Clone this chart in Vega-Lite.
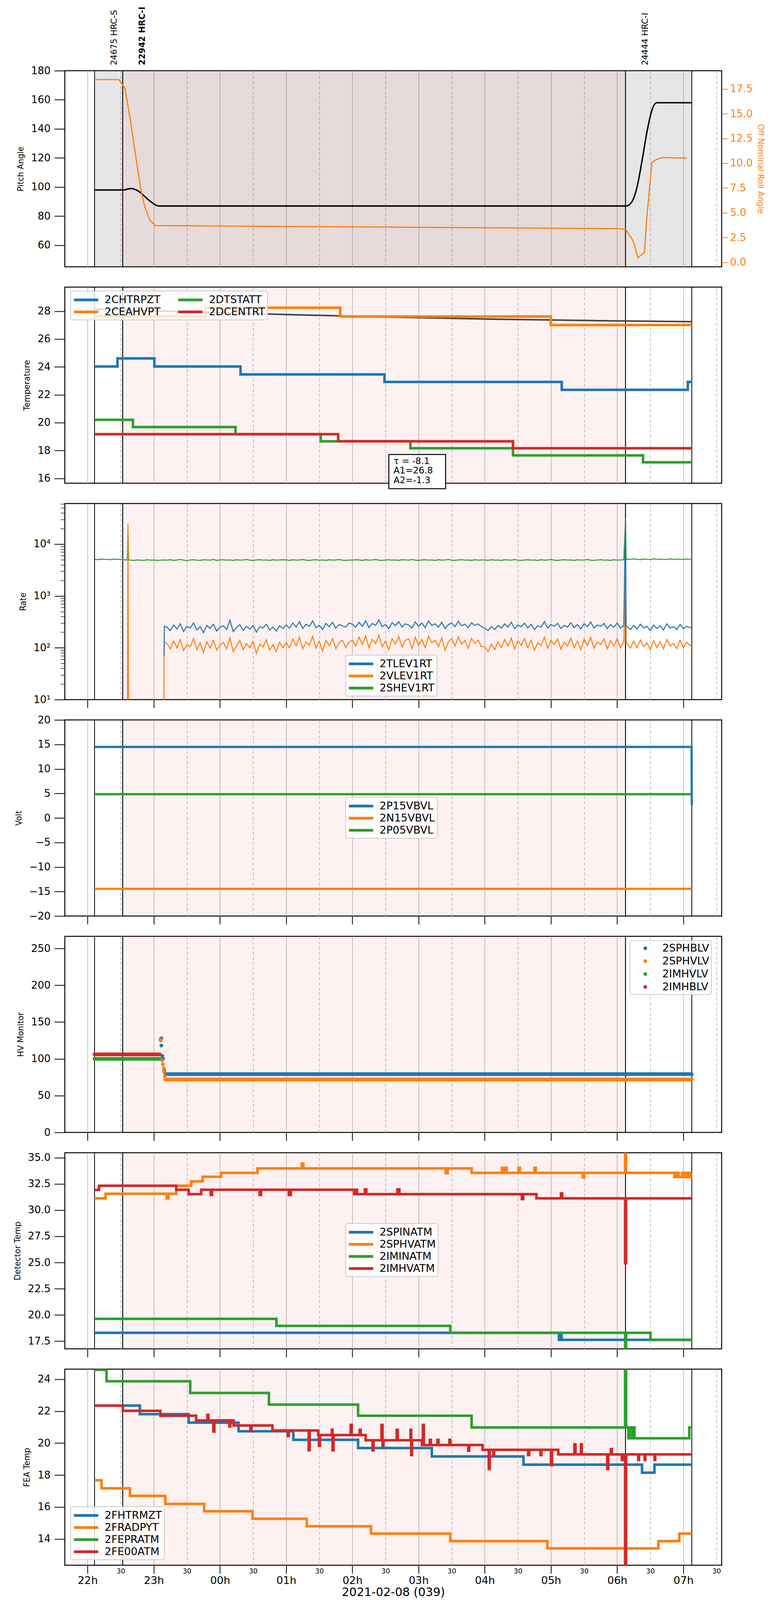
{
  "$schema": "https://vega.github.io/schema/vega-lite/v6.json",
  "background": "white",
  "padding": {"left": 33, "top": 15, "right": 10, "bottom": 5},
  "bounds": "flush",
  "spacing": 52,
  "config": {
    "font": "DejaVu Sans",
    "view": {"stroke": "black", "strokeWidth": 2.5},
    "axis": {
      "labelFont": "DejaVu Sans", "labelFontSize": 26, "labelColor": "black",
      "titleFont": "DejaVu Sans", "titleFontSize": 20.5, "titleFontWeight": "normal", "titleColor": "black",
      "tickColor": "black", "tickWidth": 2, "tickSize": 27, "labelPadding": 10, "titlePadding": 16,
      "domain": false, "grid": false
    },
    "legend": {
      "orient": "none", "fillColor": "rgba(255,255,255,0.8)", "strokeColor": "#cccccc", "strokeWidth": 2,
      "cornerRadius": 6, "padding": 6, "labelFont": "DejaVu Sans", "labelFontSize": 27, "labelColor": "black",
      "symbolStrokeWidth": 7, "symbolSize": 676, "symbolType": "M-2.4,0H2.4", "symbolOffset": 17,
      "rowPadding": 0, "labelOffset": 31
    },
    "text": {"font": "DejaVu Sans"}
  },
  "resolve": {
    "scale": {"color": "independent", "fill": "independent", "y": "independent", "x": "independent"},
    "legend": {"color": "independent", "fill": "independent"}
  },
  "datasets": {
    "obs": [
      {"t": -1.895, "t2": -1.47, "label": "24675 HRC-S", "focus": 0},
      {"t": -1.47, "t2": 6.126, "label": "22942 HRC-I", "focus": 1},
      {"t": 6.126, "t2": 7.127, "label": "24444 HRC-I", "focus": 0}
    ],
    "pitch": [
      {"t": -1.895, "v": 98}, {"t": -1.466, "v": 98}, {"t": -1.338, "v": 99}, {"t": -1.225, "v": 97},
      {"t": -1.074, "v": 91}, {"t": -0.924, "v": 87}, {"t": 6.134, "v": 87}, {"t": 6.224, "v": 90},
      {"t": 6.3, "v": 100}, {"t": 6.375, "v": 118}, {"t": 6.45, "v": 138}, {"t": 6.525, "v": 153},
      {"t": 6.6, "v": 158}, {"t": 7.127, "v": 158}
    ],
    "roll": [
      {"t": -1.895, "v": 18.44}, {"t": -1.526, "v": 18.44}, {"t": -1.436, "v": 17.57}, {"t": -1.36, "v": 14.64},
      {"t": -1.3, "v": 11.93}, {"t": -1.24, "v": 9.22}, {"t": -1.187, "v": 7.05}, {"t": -1.135, "v": 5.6},
      {"t": -1.06, "v": 4.25}, {"t": -0.977, "v": 3.71}, {"t": 6.0, "v": 3.4}, {"t": 6.128, "v": 3.34},
      {"t": 6.224, "v": 2.35}, {"t": 6.26, "v": 1.81}, {"t": 6.31, "v": 0.45}, {"t": 6.41, "v": 0.99},
      {"t": 6.45, "v": 4.7}, {"t": 6.525, "v": 10.12}, {"t": 6.585, "v": 10.34}, {"t": 6.676, "v": 10.58},
      {"t": 7.052, "v": 10.52}
    ],
    "fit": [
      {"t": -1.895, "v": 28.15}, {"t": -0.32, "v": 27.93}, {"t": 1.18, "v": 27.74}, {"t": 2.69, "v": 27.56},
      {"t": 4.19, "v": 27.42}, {"t": 5.7, "v": 27.32}, {"t": 7.127, "v": 27.25}
    ],
    "fitpar": [{"tau": -8.1, "A1": 26.8, "A2": -1.3, "t": 2.551, "t2": 3.408, "v": 17.71, "v2": 15.26}],
    "temp": [
      {"msid": "2CHTRPZT", "t": -1.895, "v": 24.03}, {"msid": "2CHTRPZT", "t": -1.549, "v": 24.61},
      {"msid": "2CHTRPZT", "t": -0.992, "v": 24.03}, {"msid": "2CHTRPZT", "t": 0.31, "v": 23.46},
      {"msid": "2CHTRPZT", "t": 2.485, "v": 22.92}, {"msid": "2CHTRPZT", "t": 5.163, "v": 22.35},
      {"msid": "2CHTRPZT", "t": 7.067, "v": 22.92}, {"msid": "2CHTRPZT", "t": 7.127, "v": 22.92},
      {"msid": "2CEAHVPT", "t": -1.895, "v": 27.64}, {"msid": "2CEAHVPT", "t": -0.224, "v": 28.25},
      {"msid": "2CEAHVPT", "t": 1.815, "v": 27.62}, {"msid": "2CEAHVPT", "t": 4.998, "v": 27.01},
      {"msid": "2CEAHVPT", "t": 7.127, "v": 27.01},
      {"msid": "2DTSTATT", "t": -1.895, "v": 20.2}, {"msid": "2DTSTATT", "t": -1.315, "v": 19.68},
      {"msid": "2DTSTATT", "t": 0.235, "v": 19.17}, {"msid": "2DTSTATT", "t": 1.521, "v": 18.66},
      {"msid": "2DTSTATT", "t": 2.876, "v": 18.16}, {"msid": "2DTSTATT", "t": 4.426, "v": 17.65},
      {"msid": "2DTSTATT", "t": 6.39, "v": 17.15}, {"msid": "2DTSTATT", "t": 7.127, "v": 17.15},
      {"msid": "2DCENTRT", "t": -1.895, "v": 19.17}, {"msid": "2DCENTRT", "t": 1.785, "v": 18.66},
      {"msid": "2DCENTRT", "t": 4.426, "v": 18.16}, {"msid": "2DCENTRT", "t": 7.127, "v": 18.16}
    ],
    "rate": [
      {"t": -1.89, "2SHEV1RT": 5100}, {"t": -1.85, "2SHEV1RT": 5000}, {"t": -1.8, "2SHEV1RT": 5150},
      {"t": -1.75, "2SHEV1RT": 5050}, {"t": -1.7, "2SHEV1RT": 5100}, {"t": -1.65, "2SHEV1RT": 5000},
      {"t": -1.6, "2SHEV1RT": 5150}, {"t": -1.55, "2SHEV1RT": 5050}, {"t": -1.5, "2SHEV1RT": 5100},
      {"t": -1.45, "2SHEV1RT": 5000},
      {"t": -1.4, "2SHEV1RT": 4950, "2VLEV1RT": 1},
      {"t": -1.39, "2SHEV1RT": 18600, "2VLEV1RT": 24800},
      {"t": -1.38, "2SHEV1RT": 4950, "2VLEV1RT": 1},
      {"t": -1.35, "2SHEV1RT": 4900}, {"t": -1.3, "2SHEV1RT": 4850}, {"t": -1.25, "2SHEV1RT": 4950},
      {"t": -1.2, "2SHEV1RT": 4900}, {"t": -1.15, "2SHEV1RT": 4850}, {"t": -1.1, "2SHEV1RT": 5000},
      {"t": -1.05, "2SHEV1RT": 4900}, {"t": -1.0, "2SHEV1RT": 4950}, {"t": -0.95, "2SHEV1RT": 4850},
      {"t": -0.9, "2SHEV1RT": 4900},
      {"t": -0.85, "2SHEV1RT": 4950, "2VLEV1RT": 1},
      {"t": -0.845, "2TLEV1RT": 70, "2VLEV1RT": 100},
      {"t": -0.84, "2TLEV1RT": 260, "2VLEV1RT": 130},
      {"t": -0.8, "2TLEV1RT": 250, "2VLEV1RT": 120, "2SHEV1RT": 4900},
      {"t": -0.75, "2TLEV1RT": 215, "2VLEV1RT": 95, "2SHEV1RT": 5000},
      {"t": -0.7, "2TLEV1RT": 275, "2VLEV1RT": 135, "2SHEV1RT": 4850},
      {"t": -0.65, "2TLEV1RT": 230, "2VLEV1RT": 100, "2SHEV1RT": 4950},
      {"t": -0.6, "2TLEV1RT": 290, "2VLEV1RT": 145, "2SHEV1RT": 5050},
      {"t": -0.55, "2TLEV1RT": 205, "2VLEV1RT": 88, "2SHEV1RT": 4900},
      {"t": -0.5, "2TLEV1RT": 260, "2VLEV1RT": 115, "2SHEV1RT": 4800},
      {"t": -0.45, "2TLEV1RT": 240, "2VLEV1RT": 105, "2SHEV1RT": 4950},
      {"t": -0.4, "2TLEV1RT": 300, "2VLEV1RT": 150, "2SHEV1RT": 5000},
      {"t": -0.35, "2TLEV1RT": 220, "2VLEV1RT": 92, "2SHEV1RT": 4900},
      {"t": -0.3, "2TLEV1RT": 255, "2VLEV1RT": 125, "2SHEV1RT": 4850},
      {"t": -0.25, "2TLEV1RT": 195, "2VLEV1RT": 80, "2SHEV1RT": 5000},
      {"t": -0.2, "2TLEV1RT": 270, "2VLEV1RT": 130, "2SHEV1RT": 4950},
      {"t": -0.15, "2TLEV1RT": 235, "2VLEV1RT": 98, "2SHEV1RT": 4900},
      {"t": -0.1, "2TLEV1RT": 285, "2VLEV1RT": 140, "2SHEV1RT": 5050},
      {"t": -0.05, "2TLEV1RT": 210, "2VLEV1RT": 90, "2SHEV1RT": 4850},
      {"t": 0.0, "2TLEV1RT": 250, "2VLEV1RT": 112, "2SHEV1RT": 4950},
      {"t": 0.05, "2TLEV1RT": 265, "2VLEV1RT": 128, "2SHEV1RT": 5000},
      {"t": 0.1, "2TLEV1RT": 225, "2VLEV1RT": 95, "2SHEV1RT": 4900},
      {"t": 0.15, "2TLEV1RT": 340, "2VLEV1RT": 155, "2SHEV1RT": 4950},
      {"t": 0.2, "2TLEV1RT": 205, "2VLEV1RT": 85, "2SHEV1RT": 4850},
      {"t": 0.25, "2TLEV1RT": 245, "2VLEV1RT": 110, "2SHEV1RT": 5000},
      {"t": 0.3, "2TLEV1RT": 280, "2VLEV1RT": 138, "2SHEV1RT": 4900},
      {"t": 0.35, "2TLEV1RT": 215, "2VLEV1RT": 92, "2SHEV1RT": 4950},
      {"t": 0.4, "2TLEV1RT": 260, "2VLEV1RT": 120, "2SHEV1RT": 5050},
      {"t": 0.45, "2TLEV1RT": 230, "2VLEV1RT": 100, "2SHEV1RT": 4900},
      {"t": 0.5, "2TLEV1RT": 270, "2VLEV1RT": 132, "2SHEV1RT": 4850},
      {"t": 0.55, "2TLEV1RT": 200, "2VLEV1RT": 78, "2SHEV1RT": 4950},
      {"t": 0.6, "2TLEV1RT": 255, "2VLEV1RT": 118, "2SHEV1RT": 5000},
      {"t": 0.65, "2TLEV1RT": 240, "2VLEV1RT": 104, "2SHEV1RT": 4900},
      {"t": 0.7, "2TLEV1RT": 285, "2VLEV1RT": 142, "2SHEV1RT": 4950},
      {"t": 0.75, "2TLEV1RT": 220, "2VLEV1RT": 90, "2SHEV1RT": 4850},
      {"t": 0.8, "2TLEV1RT": 250, "2VLEV1RT": 115, "2SHEV1RT": 5000},
      {"t": 0.85, "2TLEV1RT": 210, "2VLEV1RT": 85, "2SHEV1RT": 4900},
      {"t": 0.9, "2TLEV1RT": 265, "2VLEV1RT": 128, "2SHEV1RT": 4950},
      {"t": 0.95, "2TLEV1RT": 235, "2VLEV1RT": 100, "2SHEV1RT": 5000},
      {"t": 1.0, "2TLEV1RT": 275, "2VLEV1RT": 125, "2SHEV1RT": 4950},
      {"t": 1.05, "2TLEV1RT": 240, "2VLEV1RT": 100, "2SHEV1RT": 4850},
      {"t": 1.1, "2TLEV1RT": 300, "2VLEV1RT": 148, "2SHEV1RT": 5000},
      {"t": 1.15, "2TLEV1RT": 250, "2VLEV1RT": 108, "2SHEV1RT": 4900},
      {"t": 1.2, "2TLEV1RT": 320, "2VLEV1RT": 160, "2SHEV1RT": 4950},
      {"t": 1.25, "2TLEV1RT": 235, "2VLEV1RT": 95, "2SHEV1RT": 5050},
      {"t": 1.3, "2TLEV1RT": 285, "2VLEV1RT": 130, "2SHEV1RT": 4900},
      {"t": 1.35, "2TLEV1RT": 260, "2VLEV1RT": 112, "2SHEV1RT": 4850},
      {"t": 1.4, "2TLEV1RT": 330, "2VLEV1RT": 165, "2SHEV1RT": 4950},
      {"t": 1.45, "2TLEV1RT": 245, "2VLEV1RT": 98, "2SHEV1RT": 5000},
      {"t": 1.5, "2TLEV1RT": 270, "2VLEV1RT": 135, "2SHEV1RT": 4900},
      {"t": 1.55, "2TLEV1RT": 225, "2VLEV1RT": 85, "2SHEV1RT": 4950},
      {"t": 1.6, "2TLEV1RT": 295, "2VLEV1RT": 140, "2SHEV1RT": 4850},
      {"t": 1.65, "2TLEV1RT": 255, "2VLEV1RT": 110, "2SHEV1RT": 5000},
      {"t": 1.7, "2TLEV1RT": 310, "2VLEV1RT": 150, "2SHEV1RT": 4900},
      {"t": 1.75, "2TLEV1RT": 240, "2VLEV1RT": 96, "2SHEV1RT": 4950},
      {"t": 1.8, "2TLEV1RT": 280, "2VLEV1RT": 125, "2SHEV1RT": 5050},
      {"t": 1.85, "2TLEV1RT": 265, "2VLEV1RT": 140, "2SHEV1RT": 4900},
      {"t": 1.9, "2TLEV1RT": 250, "2VLEV1RT": 100, "2SHEV1RT": 4850},
      {"t": 1.95, "2TLEV1RT": 300, "2VLEV1RT": 130, "2SHEV1RT": 4950},
      {"t": 2.0, "2TLEV1RT": 285, "2VLEV1RT": 140, "2SHEV1RT": 4900},
      {"t": 2.05, "2TLEV1RT": 250, "2VLEV1RT": 108, "2SHEV1RT": 5000},
      {"t": 2.1, "2TLEV1RT": 310, "2VLEV1RT": 160, "2SHEV1RT": 4950},
      {"t": 2.15, "2TLEV1RT": 260, "2VLEV1RT": 115, "2SHEV1RT": 4850},
      {"t": 2.2, "2TLEV1RT": 330, "2VLEV1RT": 170, "2SHEV1RT": 5000},
      {"t": 2.25, "2TLEV1RT": 245, "2VLEV1RT": 100, "2SHEV1RT": 4900},
      {"t": 2.3, "2TLEV1RT": 295, "2VLEV1RT": 145, "2SHEV1RT": 4950},
      {"t": 2.35, "2TLEV1RT": 270, "2VLEV1RT": 120, "2SHEV1RT": 5050},
      {"t": 2.4, "2TLEV1RT": 345, "2VLEV1RT": 175, "2SHEV1RT": 4900},
      {"t": 2.45, "2TLEV1RT": 255, "2VLEV1RT": 105, "2SHEV1RT": 4850},
      {"t": 2.5, "2TLEV1RT": 280, "2VLEV1RT": 135, "2SHEV1RT": 4950},
      {"t": 2.55, "2TLEV1RT": 235, "2VLEV1RT": 92, "2SHEV1RT": 5000},
      {"t": 2.6, "2TLEV1RT": 305, "2VLEV1RT": 150, "2SHEV1RT": 4900},
      {"t": 2.65, "2TLEV1RT": 265, "2VLEV1RT": 118, "2SHEV1RT": 4950},
      {"t": 2.7, "2TLEV1RT": 320, "2VLEV1RT": 165, "2SHEV1RT": 4850},
      {"t": 2.75, "2TLEV1RT": 250, "2VLEV1RT": 102, "2SHEV1RT": 5000},
      {"t": 2.8, "2TLEV1RT": 290, "2VLEV1RT": 138, "2SHEV1RT": 4950},
      {"t": 2.85, "2TLEV1RT": 275, "2VLEV1RT": 150, "2SHEV1RT": 4900},
      {"t": 2.9, "2TLEV1RT": 240, "2VLEV1RT": 96, "2SHEV1RT": 5050},
      {"t": 2.95, "2TLEV1RT": 315, "2VLEV1RT": 160, "2SHEV1RT": 4900},
      {"t": 3.0, "2TLEV1RT": 260, "2VLEV1RT": 112, "2SHEV1RT": 4850},
      {"t": 3.05, "2TLEV1RT": 300, "2VLEV1RT": 145, "2SHEV1RT": 4950},
      {"t": 3.1, "2TLEV1RT": 245, "2VLEV1RT": 100, "2SHEV1RT": 5000},
      {"t": 3.15, "2TLEV1RT": 330, "2VLEV1RT": 168, "2SHEV1RT": 4900},
      {"t": 3.2, "2TLEV1RT": 270, "2VLEV1RT": 125, "2SHEV1RT": 4950},
      {"t": 3.25, "2TLEV1RT": 290, "2VLEV1RT": 140, "2SHEV1RT": 4850},
      {"t": 3.3, "2TLEV1RT": 250, "2VLEV1RT": 105, "2SHEV1RT": 5000},
      {"t": 3.35, "2TLEV1RT": 310, "2VLEV1RT": 155, "2SHEV1RT": 4900},
      {"t": 3.4, "2TLEV1RT": 235, "2VLEV1RT": 90, "2SHEV1RT": 4950},
      {"t": 3.45, "2TLEV1RT": 280, "2VLEV1RT": 130, "2SHEV1RT": 5050},
      {"t": 3.5, "2TLEV1RT": 300, "2VLEV1RT": 150, "2SHEV1RT": 4900},
      {"t": 3.55, "2TLEV1RT": 255, "2VLEV1RT": 108, "2SHEV1RT": 4850},
      {"t": 3.6, "2TLEV1RT": 325, "2VLEV1RT": 162, "2SHEV1RT": 4950},
      {"t": 3.65, "2TLEV1RT": 265, "2VLEV1RT": 118, "2SHEV1RT": 5000},
      {"t": 3.7, "2TLEV1RT": 285, "2VLEV1RT": 138, "2SHEV1RT": 4900},
      {"t": 3.75, "2TLEV1RT": 245, "2VLEV1RT": 98, "2SHEV1RT": 4950},
      {"t": 3.8, "2TLEV1RT": 305, "2VLEV1RT": 152, "2SHEV1RT": 4850},
      {"t": 3.85, "2TLEV1RT": 270, "2VLEV1RT": 122, "2SHEV1RT": 5000},
      {"t": 3.9, "2TLEV1RT": 290, "2VLEV1RT": 140, "2SHEV1RT": 4900},
      {"t": 3.95, "2TLEV1RT": 255, "2VLEV1RT": 105, "2SHEV1RT": 4950},
      {"t": 4.0, "2TLEV1RT": 240, "2VLEV1RT": 105, "2SHEV1RT": 4950},
      {"t": 4.05, "2TLEV1RT": 215, "2VLEV1RT": 85, "2SHEV1RT": 4850},
      {"t": 4.1, "2TLEV1RT": 255, "2VLEV1RT": 118, "2SHEV1RT": 5000},
      {"t": 4.15, "2TLEV1RT": 225, "2VLEV1RT": 92, "2SHEV1RT": 4900},
      {"t": 4.2, "2TLEV1RT": 270, "2VLEV1RT": 130, "2SHEV1RT": 4950},
      {"t": 4.25, "2TLEV1RT": 240, "2VLEV1RT": 100, "2SHEV1RT": 4850},
      {"t": 4.3, "2TLEV1RT": 290, "2VLEV1RT": 145, "2SHEV1RT": 5000},
      {"t": 4.35, "2TLEV1RT": 250, "2VLEV1RT": 108, "2SHEV1RT": 4950},
      {"t": 4.4, "2TLEV1RT": 310, "2VLEV1RT": 155, "2SHEV1RT": 4900},
      {"t": 4.45, "2TLEV1RT": 235, "2VLEV1RT": 95, "2SHEV1RT": 5050},
      {"t": 4.5, "2TLEV1RT": 275, "2VLEV1RT": 135, "2SHEV1RT": 4900},
      {"t": 4.55, "2TLEV1RT": 255, "2VLEV1RT": 112, "2SHEV1RT": 4850},
      {"t": 4.6, "2TLEV1RT": 300, "2VLEV1RT": 150, "2SHEV1RT": 4950},
      {"t": 4.65, "2TLEV1RT": 240, "2VLEV1RT": 100, "2SHEV1RT": 5000},
      {"t": 4.7, "2TLEV1RT": 285, "2VLEV1RT": 140, "2SHEV1RT": 4900},
      {"t": 4.75, "2TLEV1RT": 225, "2VLEV1RT": 90, "2SHEV1RT": 4950},
      {"t": 4.8, "2TLEV1RT": 265, "2VLEV1RT": 125, "2SHEV1RT": 4850},
      {"t": 4.85, "2TLEV1RT": 250, "2VLEV1RT": 110, "2SHEV1RT": 5000},
      {"t": 4.9, "2TLEV1RT": 320, "2VLEV1RT": 160, "2SHEV1RT": 4900},
      {"t": 4.95, "2TLEV1RT": 240, "2VLEV1RT": 98, "2SHEV1RT": 4950},
      {"t": 5.0, "2TLEV1RT": 280, "2VLEV1RT": 138, "2SHEV1RT": 5050},
      {"t": 5.05, "2TLEV1RT": 260, "2VLEV1RT": 115, "2SHEV1RT": 4900},
      {"t": 5.1, "2TLEV1RT": 295, "2VLEV1RT": 148, "2SHEV1RT": 4850},
      {"t": 5.15, "2TLEV1RT": 235, "2VLEV1RT": 94, "2SHEV1RT": 4950},
      {"t": 5.2, "2TLEV1RT": 270, "2VLEV1RT": 128, "2SHEV1RT": 5000},
      {"t": 5.25, "2TLEV1RT": 250, "2VLEV1RT": 108, "2SHEV1RT": 4900},
      {"t": 5.3, "2TLEV1RT": 305, "2VLEV1RT": 152, "2SHEV1RT": 4950},
      {"t": 5.35, "2TLEV1RT": 245, "2VLEV1RT": 100, "2SHEV1RT": 4850},
      {"t": 5.4, "2TLEV1RT": 280, "2VLEV1RT": 135, "2SHEV1RT": 5000},
      {"t": 5.45, "2TLEV1RT": 230, "2VLEV1RT": 92, "2SHEV1RT": 4900},
      {"t": 5.5, "2TLEV1RT": 290, "2VLEV1RT": 145, "2SHEV1RT": 4950},
      {"t": 5.55, "2TLEV1RT": 255, "2VLEV1RT": 110, "2SHEV1RT": 5050},
      {"t": 5.6, "2TLEV1RT": 315, "2VLEV1RT": 158, "2SHEV1RT": 4900},
      {"t": 5.65, "2TLEV1RT": 240, "2VLEV1RT": 98, "2SHEV1RT": 4850},
      {"t": 5.7, "2TLEV1RT": 275, "2VLEV1RT": 130, "2SHEV1RT": 4950},
      {"t": 5.75, "2TLEV1RT": 260, "2VLEV1RT": 115, "2SHEV1RT": 5000},
      {"t": 5.8, "2TLEV1RT": 295, "2VLEV1RT": 148, "2SHEV1RT": 4900},
      {"t": 5.85, "2TLEV1RT": 235, "2VLEV1RT": 95, "2SHEV1RT": 4950},
      {"t": 5.9, "2TLEV1RT": 280, "2VLEV1RT": 138, "2SHEV1RT": 4850},
      {"t": 5.95, "2TLEV1RT": 250, "2VLEV1RT": 108, "2SHEV1RT": 5000},
      {"t": 6.0, "2TLEV1RT": 300, "2VLEV1RT": 150, "2SHEV1RT": 4900},
      {"t": 6.05, "2TLEV1RT": 240, "2VLEV1RT": 100, "2SHEV1RT": 4950},
      {"t": 6.1, "2TLEV1RT": 270, "2VLEV1RT": 130, "2SHEV1RT": 5000},
      {"t": 6.126, "2TLEV1RT": 32000, "2VLEV1RT": 4800, "2SHEV1RT": 29000},
      {"t": 6.135, "2TLEV1RT": 260, "2VLEV1RT": 130, "2SHEV1RT": 5000},
      {"t": 6.15, "2TLEV1RT": 255, "2VLEV1RT": 120, "2SHEV1RT": 5150},
      {"t": 6.2, "2TLEV1RT": 225, "2VLEV1RT": 98, "2SHEV1RT": 5050},
      {"t": 6.25, "2TLEV1RT": 270, "2VLEV1RT": 135, "2SHEV1RT": 5200},
      {"t": 6.3, "2TLEV1RT": 230, "2VLEV1RT": 100, "2SHEV1RT": 5100},
      {"t": 6.35, "2TLEV1RT": 285, "2VLEV1RT": 142, "2SHEV1RT": 5000},
      {"t": 6.4, "2TLEV1RT": 240, "2VLEV1RT": 105, "2SHEV1RT": 5150},
      {"t": 6.45, "2TLEV1RT": 260, "2VLEV1RT": 125, "2SHEV1RT": 5100},
      {"t": 6.5, "2TLEV1RT": 215, "2VLEV1RT": 92, "2SHEV1RT": 5050},
      {"t": 6.55, "2TLEV1RT": 275, "2VLEV1RT": 138, "2SHEV1RT": 5200},
      {"t": 6.6, "2TLEV1RT": 235, "2VLEV1RT": 102, "2SHEV1RT": 5100},
      {"t": 6.65, "2TLEV1RT": 265, "2VLEV1RT": 130, "2SHEV1RT": 5150},
      {"t": 6.7, "2TLEV1RT": 220, "2VLEV1RT": 95, "2SHEV1RT": 5050},
      {"t": 6.75, "2TLEV1RT": 290, "2VLEV1RT": 145, "2SHEV1RT": 5100},
      {"t": 6.8, "2TLEV1RT": 240, "2VLEV1RT": 108, "2SHEV1RT": 5200},
      {"t": 6.85, "2TLEV1RT": 255, "2VLEV1RT": 122, "2SHEV1RT": 5050},
      {"t": 6.9, "2TLEV1RT": 225, "2VLEV1RT": 96, "2SHEV1RT": 5150},
      {"t": 6.95, "2TLEV1RT": 280, "2VLEV1RT": 140, "2SHEV1RT": 5100},
      {"t": 7.0, "2TLEV1RT": 235, "2VLEV1RT": 100, "2SHEV1RT": 5050},
      {"t": 7.05, "2TLEV1RT": 260, "2VLEV1RT": 128, "2SHEV1RT": 5150},
      {"t": 7.1, "2TLEV1RT": 245, "2VLEV1RT": 110, "2SHEV1RT": 5100},
      {"t": 7.127, "2TLEV1RT": 250, "2VLEV1RT": 115, "2SHEV1RT": 5100}
    ],
    "volt": [
      {"msid": "2P15VBVL", "t": -1.895, "v": 14.5}, {"msid": "2P15VBVL", "t": 7.124, "v": 14.5},
      {"msid": "2P15VBVL", "t": 7.127, "v": 2.6},
      {"msid": "2N15VBVL", "t": -1.895, "v": -14.45}, {"msid": "2N15VBVL", "t": 7.127, "v": -14.45},
      {"msid": "2P05VBVL", "t": -1.895, "v": 4.85}, {"msid": "2P05VBVL", "t": 7.127, "v": 4.85}
    ],
    "hvline": [
      {"msid": "2SPHBLV", "t": -0.811, "v": 79.2}, {"msid": "2SPHBLV", "t": 7.127, "v": 79.2},
      {"msid": "2SPHVLV", "t": -0.826, "v": 72}, {"msid": "2SPHVLV", "t": 7.127, "v": 72},
      {"msid": "2IMHVLV", "t": -1.895, "v": 100}, {"msid": "2IMHVLV", "t": -0.909, "v": 100},
      {"msid": "2IMHBLV", "t": -1.895, "v": 106}, {"msid": "2IMHBLV", "t": -0.909, "v": 106}
    ],
    "hvdot": [
      {"msid": "2SPHBLV", "t": -0.886, "v": 128}, {"msid": "2SPHBLV", "t": -0.886, "v": 118},
      {"msid": "2SPHBLV", "t": -0.871, "v": 104}, {"msid": "2SPHBLV", "t": -0.86, "v": 100},
      {"msid": "2SPHBLV", "t": -0.841, "v": 84}, {"msid": "2SPHBLV", "t": -0.826, "v": 80},
      {"msid": "2SPHVLV", "t": -0.901, "v": 126.5}, {"msid": "2SPHVLV", "t": -0.896, "v": 125},
      {"msid": "2SPHVLV", "t": -0.871, "v": 98}, {"msid": "2SPHVLV", "t": -0.863, "v": 92.6},
      {"msid": "2SPHVLV", "t": -0.848, "v": 87.5}, {"msid": "2SPHVLV", "t": -0.841, "v": 82.4},
      {"msid": "2SPHVLV", "t": -0.833, "v": 76.7},
      {"msid": "2IMHVLV", "t": -1.895, "v": 100}, {"msid": "2IMHBLV", "t": -1.895, "v": 106}
    ],
    "det": [
      {"msid": "2SPINATM", "t": -1.895, "v": 18.3}, {"msid": "2SPINATM", "t": 5.12, "v": 17.63},
      {"msid": "2SPINATM", "t": 5.13, "v": 18.3}, {"msid": "2SPINATM", "t": 5.14, "v": 17.63},
      {"msid": "2SPINATM", "t": 5.15, "v": 18.3}, {"msid": "2SPINATM", "t": 5.16, "v": 17.63},
      {"msid": "2SPINATM", "t": 7.127, "v": 17.63},
      {"msid": "2SPHVATM", "t": -1.895, "v": 31.12}, {"msid": "2SPHVATM", "t": -1.729, "v": 31.56},
      {"msid": "2SPHVATM", "t": -0.806, "v": 31.12}, {"msid": "2SPHVATM", "t": -0.78, "v": 31.56},
      {"msid": "2SPHVATM", "t": -0.661, "v": 32.32}, {"msid": "2SPHVATM", "t": -0.435, "v": 32.74},
      {"msid": "2SPHVATM", "t": -0.262, "v": 33.18}, {"msid": "2SPHVATM", "t": 0.017, "v": 33.55},
      {"msid": "2SPHVATM", "t": 0.566, "v": 33.98}, {"msid": "2SPHVATM", "t": 1.235, "v": 34.44},
      {"msid": "2SPHVATM", "t": 1.26, "v": 33.98}, {"msid": "2SPHVATM", "t": 3.41, "v": 33.51},
      {"msid": "2SPHVATM", "t": 3.44, "v": 33.98}, {"msid": "2SPHVATM", "t": 3.801, "v": 33.55},
      {"msid": "2SPHVATM", "t": 4.26, "v": 34.04}, {"msid": "2SPHVATM", "t": 4.28, "v": 33.55},
      {"msid": "2SPHVATM", "t": 4.31, "v": 34.04}, {"msid": "2SPHVATM", "t": 4.33, "v": 33.55},
      {"msid": "2SPHVATM", "t": 4.51, "v": 34.04}, {"msid": "2SPHVATM", "t": 4.53, "v": 33.55},
      {"msid": "2SPHVATM", "t": 4.75, "v": 34.04}, {"msid": "2SPHVATM", "t": 4.77, "v": 33.55},
      {"msid": "2SPHVATM", "t": 5.48, "v": 33.11}, {"msid": "2SPHVATM", "t": 5.5, "v": 33.55},
      {"msid": "2SPHVATM", "t": 6.12, "v": 36.5}, {"msid": "2SPHVATM", "t": 6.135, "v": 33.55},
      {"msid": "2SPHVATM", "t": 6.864, "v": 33.15}, {"msid": "2SPHVATM", "t": 6.9, "v": 33.55},
      {"msid": "2SPHVATM", "t": 6.93, "v": 33.15}, {"msid": "2SPHVATM", "t": 6.98, "v": 33.55},
      {"msid": "2SPHVATM", "t": 7.02, "v": 33.15}, {"msid": "2SPHVATM", "t": 7.06, "v": 33.55},
      {"msid": "2SPHVATM", "t": 7.09, "v": 33.15}, {"msid": "2SPHVATM", "t": 7.11, "v": 33.55},
      {"msid": "2SPHVATM", "t": 7.127, "v": 33.55},
      {"msid": "2IMINATM", "t": -1.895, "v": 19.63}, {"msid": "2IMINATM", "t": 0.852, "v": 18.96},
      {"msid": "2IMINATM", "t": 3.478, "v": 18.3}, {"msid": "2IMINATM", "t": 6.12, "v": 15.5},
      {"msid": "2IMINATM", "t": 6.135, "v": 18.3}, {"msid": "2IMINATM", "t": 6.503, "v": 17.63},
      {"msid": "2IMINATM", "t": 7.127, "v": 17.63},
      {"msid": "2IMHVATM", "t": -1.895, "v": 31.92}, {"msid": "2IMHVATM", "t": -1.827, "v": 32.32},
      {"msid": "2IMHVATM", "t": -0.661, "v": 31.94}, {"msid": "2IMHVATM", "t": -0.473, "v": 31.52},
      {"msid": "2IMHVATM", "t": -0.284, "v": 31.94}, {"msid": "2IMHVATM", "t": -0.14, "v": 31.45},
      {"msid": "2IMHVATM", "t": -0.12, "v": 31.94}, {"msid": "2IMHVATM", "t": 0.6, "v": 31.45},
      {"msid": "2IMHVATM", "t": 0.62, "v": 31.94}, {"msid": "2IMHVATM", "t": 1.04, "v": 31.45},
      {"msid": "2IMHVATM", "t": 1.07, "v": 31.94}, {"msid": "2IMHVATM", "t": 2.026, "v": 31.52},
      {"msid": "2IMHVATM", "t": 2.05, "v": 31.94}, {"msid": "2IMHVATM", "t": 2.07, "v": 31.52},
      {"msid": "2IMHVATM", "t": 2.19, "v": 31.98}, {"msid": "2IMHVATM", "t": 2.21, "v": 31.52},
      {"msid": "2IMHVATM", "t": 2.68, "v": 31.98}, {"msid": "2IMHVATM", "t": 2.71, "v": 31.52},
      {"msid": "2IMHVATM", "t": 4.56, "v": 31.05}, {"msid": "2IMHVATM", "t": 4.58, "v": 31.52},
      {"msid": "2IMHVATM", "t": 4.78, "v": 31.12}, {"msid": "2IMHVATM", "t": 5.15, "v": 31.59},
      {"msid": "2IMHVATM", "t": 5.17, "v": 31.12}, {"msid": "2IMHVATM", "t": 6.12, "v": 24.94},
      {"msid": "2IMHVATM", "t": 6.135, "v": 31.12}, {"msid": "2IMHVATM", "t": 7.127, "v": 31.12}
    ],
    "fea": [
      {"msid": "2FHTRMZT", "t": -1.895, "v": 22.35}, {"msid": "2FHTRMZT", "t": -1.21, "v": 21.81},
      {"msid": "2FHTRMZT", "t": -0.473, "v": 21.28}, {"msid": "2FHTRMZT", "t": 0.28, "v": 20.74},
      {"msid": "2FHTRMZT", "t": 1.108, "v": 20.2}, {"msid": "2FHTRMZT", "t": 2.086, "v": 19.69},
      {"msid": "2FHTRMZT", "t": 3.2, "v": 19.16}, {"msid": "2FHTRMZT", "t": 4.584, "v": 18.65},
      {"msid": "2FHTRMZT", "t": 6.375, "v": 18.15}, {"msid": "2FHTRMZT", "t": 6.563, "v": 18.65},
      {"msid": "2FHTRMZT", "t": 7.127, "v": 18.65},
      {"msid": "2FRADPYT", "t": -1.895, "v": 17.67}, {"msid": "2FRADPYT", "t": -1.789, "v": 17.17},
      {"msid": "2FRADPYT", "t": -1.36, "v": 16.69}, {"msid": "2FRADPYT", "t": -0.826, "v": 16.19},
      {"msid": "2FRADPYT", "t": -0.239, "v": 15.73}, {"msid": "2FRADPYT", "t": 0.491, "v": 15.26},
      {"msid": "2FRADPYT", "t": 1.311, "v": 14.79}, {"msid": "2FRADPYT", "t": 2.281, "v": 14.33},
      {"msid": "2FRADPYT", "t": 3.478, "v": 13.86}, {"msid": "2FRADPYT", "t": 4.945, "v": 13.41},
      {"msid": "2FRADPYT", "t": 6.623, "v": 13.86}, {"msid": "2FRADPYT", "t": 6.939, "v": 14.33},
      {"msid": "2FRADPYT", "t": 7.127, "v": 14.33},
      {"msid": "2FEPRATM", "t": -1.895, "v": 24.59}, {"msid": "2FEPRATM", "t": -1.714, "v": 23.87},
      {"msid": "2FEPRATM", "t": -0.45, "v": 23.14}, {"msid": "2FEPRATM", "t": 0.739, "v": 22.41},
      {"msid": "2FEPRATM", "t": 2.086, "v": 21.71}, {"msid": "2FEPRATM", "t": 3.801, "v": 20.98},
      {"msid": "2FEPRATM", "t": 6.12, "v": 25.5}, {"msid": "2FEPRATM", "t": 6.135, "v": 20.98},
      {"msid": "2FEPRATM", "t": 6.17, "v": 20.3}, {"msid": "2FEPRATM", "t": 6.18, "v": 20.98},
      {"msid": "2FEPRATM", "t": 6.22, "v": 20.3}, {"msid": "2FEPRATM", "t": 6.23, "v": 20.98},
      {"msid": "2FEPRATM", "t": 6.262, "v": 20.3}, {"msid": "2FEPRATM", "t": 7.089, "v": 20.98},
      {"msid": "2FEPRATM", "t": 7.127, "v": 20.98},
      {"msid": "2FE00ATM", "t": -1.895, "v": 22.35}, {"msid": "2FE00ATM", "t": -1.466, "v": 22.02},
      {"msid": "2FE00ATM", "t": -0.901, "v": 21.71}, {"msid": "2FE00ATM", "t": -0.36, "v": 21.42},
      {"msid": "2FE00ATM", "t": -0.19, "v": 21.77}, {"msid": "2FE00ATM", "t": -0.175, "v": 21.42},
      {"msid": "2FE00ATM", "t": -0.1, "v": 20.72}, {"msid": "2FE00ATM", "t": -0.085, "v": 21.42},
      {"msid": "2FE00ATM", "t": 0.14, "v": 21.04}, {"msid": "2FE00ATM", "t": 0.155, "v": 21.42},
      {"msid": "2FE00ATM", "t": 0.205, "v": 21.1}, {"msid": "2FE00ATM", "t": 0.46, "v": 20.76},
      {"msid": "2FE00ATM", "t": 0.475, "v": 21.1}, {"msid": "2FE00ATM", "t": 0.792, "v": 20.79},
      {"msid": "2FE00ATM", "t": 1.025, "v": 20.44}, {"msid": "2FE00ATM", "t": 1.04, "v": 20.79},
      {"msid": "2FE00ATM", "t": 1.34, "v": 19.55}, {"msid": "2FE00ATM", "t": 1.355, "v": 20.79},
      {"msid": "2FE00ATM", "t": 1.484, "v": 20.5}, {"msid": "2FE00ATM", "t": 1.495, "v": 19.83},
      {"msid": "2FE00ATM", "t": 1.51, "v": 20.5}, {"msid": "2FE00ATM", "t": 1.69, "v": 20.84},
      {"msid": "2FE00ATM", "t": 1.7, "v": 19.55}, {"msid": "2FE00ATM", "t": 1.715, "v": 20.5},
      {"msid": "2FE00ATM", "t": 1.975, "v": 21.14}, {"msid": "2FE00ATM", "t": 1.99, "v": 20.5},
      {"msid": "2FE00ATM", "t": 2.11, "v": 20.83}, {"msid": "2FE00ATM", "t": 2.125, "v": 20.5},
      {"msid": "2FE00ATM", "t": 2.199, "v": 20.18}, {"msid": "2FE00ATM", "t": 2.305, "v": 19.55},
      {"msid": "2FE00ATM", "t": 2.32, "v": 20.18}, {"msid": "2FE00ATM", "t": 2.44, "v": 21.14},
      {"msid": "2FE00ATM", "t": 2.455, "v": 19.83}, {"msid": "2FE00ATM", "t": 2.47, "v": 20.18},
      {"msid": "2FE00ATM", "t": 2.67, "v": 20.83}, {"msid": "2FE00ATM", "t": 2.685, "v": 20.18},
      {"msid": "2FE00ATM", "t": 2.878, "v": 20.83}, {"msid": "2FE00ATM", "t": 2.888, "v": 19.25},
      {"msid": "2FE00ATM", "t": 2.9, "v": 20.18}, {"msid": "2FE00ATM", "t": 3.049, "v": 19.88},
      {"msid": "2FE00ATM", "t": 3.065, "v": 21.14}, {"msid": "2FE00ATM", "t": 3.08, "v": 19.88},
      {"msid": "2FE00ATM", "t": 3.17, "v": 20.2}, {"msid": "2FE00ATM", "t": 3.185, "v": 19.88},
      {"msid": "2FE00ATM", "t": 3.285, "v": 20.2}, {"msid": "2FE00ATM", "t": 3.3, "v": 19.88},
      {"msid": "2FE00ATM", "t": 3.465, "v": 20.2}, {"msid": "2FE00ATM", "t": 3.48, "v": 19.88},
      {"msid": "2FE00ATM", "t": 3.75, "v": 19.52}, {"msid": "2FE00ATM", "t": 3.765, "v": 19.88},
      {"msid": "2FE00ATM", "t": 3.967, "v": 19.58}, {"msid": "2FE00ATM", "t": 4.06, "v": 18.38},
      {"msid": "2FE00ATM", "t": 4.075, "v": 19.58}, {"msid": "2FE00ATM", "t": 4.128, "v": 19.25},
      {"msid": "2FE00ATM", "t": 4.14, "v": 19.58}, {"msid": "2FE00ATM", "t": 4.655, "v": 19.25},
      {"msid": "2FE00ATM", "t": 4.67, "v": 19.58}, {"msid": "2FE00ATM", "t": 4.842, "v": 19.25},
      {"msid": "2FE00ATM", "t": 4.855, "v": 19.58}, {"msid": "2FE00ATM", "t": 5.0, "v": 18.62},
      {"msid": "2FE00ATM", "t": 5.015, "v": 19.58}, {"msid": "2FE00ATM", "t": 5.11, "v": 19.29},
      {"msid": "2FE00ATM", "t": 5.355, "v": 19.92}, {"msid": "2FE00ATM", "t": 5.37, "v": 19.29},
      {"msid": "2FE00ATM", "t": 5.452, "v": 19.92}, {"msid": "2FE00ATM", "t": 5.465, "v": 19.29},
      {"msid": "2FE00ATM", "t": 5.85, "v": 18.38}, {"msid": "2FE00ATM", "t": 5.865, "v": 19.29},
      {"msid": "2FE00ATM", "t": 5.905, "v": 19.62}, {"msid": "2FE00ATM", "t": 5.92, "v": 19.29},
      {"msid": "2FE00ATM", "t": 6.07, "v": 18.94}, {"msid": "2FE00ATM", "t": 6.085, "v": 19.29},
      {"msid": "2FE00ATM", "t": 6.12, "v": 11.5}, {"msid": "2FE00ATM", "t": 6.135, "v": 19.29},
      {"msid": "2FE00ATM", "t": 6.318, "v": 18.94}, {"msid": "2FE00ATM", "t": 6.33, "v": 19.29},
      {"msid": "2FE00ATM", "t": 6.415, "v": 18.94}, {"msid": "2FE00ATM", "t": 6.425, "v": 19.29},
      {"msid": "2FE00ATM", "t": 6.565, "v": 18.94}, {"msid": "2FE00ATM", "t": 6.575, "v": 19.29},
      {"msid": "2FE00ATM", "t": 7.127, "v": 19.29}
    ]
  },
  "vconcat": [
    {
      "width": 1682, "height": 502,
      "encoding": {"x": {"field": "t", "type": "quantitative", "scale": {"domain": [-2.344, 7.578], "nice": false, "zero": false},
        "axis": {"values": [-2,-1.5,-1,-0.5,0,0.5,1,1.5,2,2.5,3,3.5,4,4.5,5,5.5,6,6.5,7,7.5], "grid": true, "gridColor": "#b0b0b0", "gridWidth": 1.5,
          "gridDash": {"condition": {"test": "datum.value % 1 != 0", "value": [8, 5]}, "value": []}, "ticks": false, "labels": false, "title": null}}},
      "layer": [
        {"data": {"name": "obs"}, "mark": {"type": "rect", "opacity": 0.2},
         "encoding": {"x2": {"field": "t2"}, "color": {"condition": {"test": "datum.focus == 1", "value": "#804548"}, "value": "#808080"}}},
        {"data": {"name": "obs"}, "transform": [{"fold": ["t", "t2"], "as": ["k", "t"]}], "mark": {"type": "rule", "color": "black", "strokeWidth": 2}, "encoding": {}},
        {"layer": [
          {"data": {"name": "pitch"}, "mark": {"type": "line", "color": "black", "strokeWidth": 3.6, "interpolate": "monotone"},
           "encoding": {"y": {"field": "v", "type": "quantitative", "scale": {"domain": [45.2, 180], "nice": false, "zero": false},
             "axis": {"orient": "left", "title": "Pitch Angle", "values": [60, 80, 100, 120, 140, 160, 180]}}}},
          {"data": {"name": "obs"}, "transform": [{"filter": "datum.focus == 0"}],
           "mark": {"type": "text", "angle": 270, "align": "left", "baseline": "middle", "dx": 14, "dy": 51, "fontSize": 21.5, "color": "black"},
           "encoding": {"y": {"datum": 180, "type": "quantitative"}, "text": {"field": "label"}}},
          {"data": {"name": "obs"}, "transform": [{"filter": "datum.focus == 1"}],
           "mark": {"type": "text", "angle": 270, "align": "left", "baseline": "middle", "dx": 14, "dy": 51, "fontSize": 21.5, "fontWeight": "bold", "color": "black"},
           "encoding": {"y": {"datum": 180, "type": "quantitative"}, "text": {"field": "label"}}}
        ]},
        {"data": {"name": "roll"}, "mark": {"type": "line", "color": "#ff7f0e", "strokeWidth": 3},
         "encoding": {"y": {"field": "v", "type": "quantitative", "scale": {"domain": [-0.45, 19.34], "nice": false, "zero": false},
           "axis": {"orient": "right", "title": "Off Nominal Roll Angle", "values": [0, 2.5, 5, 7.5, 10, 12.5, 15, 17.5], "format": ".1f",
             "labelColor": "#ff7f0e", "titleColor": "#ff7f0e", "tickColor": "#ff7f0e", "tickSize": 15, "labelPadding": 6, "titlePadding": 10}}}}
      ],
      "resolve": {"scale": {"y": "independent"}}
    },
    {
      "width": 1682, "height": 502,
      "encoding": {"x": {"field": "t", "type": "quantitative", "scale": {"domain": [-2.344, 7.578], "nice": false, "zero": false},
        "axis": {"values": [-2,-1.5,-1,-0.5,0,0.5,1,1.5,2,2.5,3,3.5,4,4.5,5,5.5,6,6.5,7,7.5], "grid": true, "gridColor": "#b0b0b0", "gridWidth": 1.5,
          "gridDash": {"condition": {"test": "datum.value % 1 != 0", "value": [8, 5]}, "value": []}, "ticks": false, "labels": false, "title": null}}},
      "layer": [
        {"data": {"name": "obs"}, "transform": [{"filter": "datum.focus == 1"}], "mark": {"type": "rect", "color": "#f04848", "opacity": 0.075},
         "encoding": {"x2": {"field": "t2"}}},
        {"data": {"name": "obs"}, "transform": [{"fold": ["t", "t2"], "as": ["k", "t"]}], "mark": {"type": "rule", "color": "black", "strokeWidth": 2}, "encoding": {}},
        {"data": {"name": "fit"}, "mark": {"type": "line", "color": "#444444", "strokeWidth": 4},
         "encoding": {"y": {"field": "v", "type": "quantitative", "scale": {"domain": [15.65, 29.73], "nice": false, "zero": false},
           "axis": {"title": "Temperature", "values": [16, 18, 20, 22, 24, 26, 28]}}}},
        {"data": {"name": "temp"}, "mark": {"type": "line", "interpolate": "step-after", "strokeWidth": 6.5},
         "encoding": {"y": {"field": "v", "type": "quantitative"},
           "color": {"field": "msid", "type": "nominal",
             "scale": {"domain": ["2CHTRPZT", "2CEAHVPT", "2DTSTATT", "2DCENTRT"], "range": ["#1f77b4", "#ff7f0e", "#2ca02c", "#d62728"]},
             "legend": {"title": null, "columns": 2, "columnPadding": 30, "legendX": 15, "legendY": 10}}}},
        {"data": {"name": "fitpar"}, "mark": {"type": "rect", "fill": "white", "stroke": "black", "strokeWidth": 2.5, "clip": false},
         "encoding": {"x2": {"field": "t2"}, "y": {"field": "v", "type": "quantitative"}, "y2": {"field": "v2"}}},
        {"data": {"name": "fitpar"},
         "transform": [{"calculate": "['τ = ' + datum.tau, 'A1=' + datum.A1, 'A2=' + datum.A2]", "as": "txt"}],
         "mark": {"type": "text", "align": "left", "baseline": "top", "dx": 12, "dy": 6, "fontSize": 23, "lineHeight": 24.5, "color": "black", "clip": false},
         "encoding": {"y": {"field": "v", "type": "quantitative"}, "text": {"field": "txt"}}}
      ]
    },
    {
      "width": 1682, "height": 502,
      "encoding": {"x": {"field": "t", "type": "quantitative", "scale": {"domain": [-2.344, 7.578], "nice": false, "zero": false},
        "axis": {"values": [-2,-1.5,-1,-0.5,0,0.5,1,1.5,2,2.5,3,3.5,4,4.5,5,5.5,6,6.5,7,7.5], "grid": true, "gridColor": "#b0b0b0", "gridWidth": 1.5,
          "gridDash": {"condition": {"test": "datum.value % 1 != 0", "value": [8, 5]}, "value": []},
          "ticks": true, "tickSize": 21, "tickOpacity": {"condition": {"test": "datum.value % 1 != 0", "value": 0}, "value": 1}, "labels": false, "title": null}}},
      "layer": [
        {"data": {"name": "obs"}, "transform": [{"filter": "datum.focus == 1"}], "mark": {"type": "rect", "color": "#f04848", "opacity": 0.075},
         "encoding": {"x2": {"field": "t2"}}},
        {"data": {"name": "obs"}, "transform": [{"fold": ["t", "t2"], "as": ["k", "t"]}], "mark": {"type": "rule", "color": "black", "strokeWidth": 2}, "encoding": {}},
        {"data": {"name": "rate"},
         "transform": [{"fold": ["2TLEV1RT", "2VLEV1RT", "2SHEV1RT"], "as": ["msid", "v"]}, {"filter": "isValid(datum.v)"}],
         "mark": {"type": "line", "strokeWidth": 2.6, "clip": true},
         "encoding": {"y": {"field": "v", "type": "quantitative", "scale": {"type": "log", "domain": [10, 60700], "nice": false},
           "axis": {"title": "Rate",
             "values": [10,20,30,40,50,60,70,80,90,100,200,300,400,500,600,700,800,900,1000,2000,3000,4000,5000,6000,7000,8000,9000,10000,20000,30000,40000,50000,60000],
             "labelExpr": "datum.value == 10 ? '10¹' : datum.value == 100 ? '10²' : datum.value == 1000 ? '10³' : datum.value == 10000 ? '10⁴' : ''",
             "tickSize": {"condition": {"test": "datum.value == 10 || datum.value == 100 || datum.value == 1000 || datum.value == 10000", "value": 27}, "value": 11},
             "tickWidth": {"condition": {"test": "datum.value == 10 || datum.value == 100 || datum.value == 1000 || datum.value == 10000", "value": 2}, "value": 1.3}}},
           "color": {"field": "msid", "type": "nominal",
             "scale": {"domain": ["2TLEV1RT", "2VLEV1RT", "2SHEV1RT"], "range": ["#1f77b4", "#ff7f0e", "#2ca02c"]},
             "legend": {"title": null, "legendX": 719, "legendY": 388}}}}
      ]
    },
    {
      "width": 1682, "height": 502,
      "encoding": {"x": {"field": "t", "type": "quantitative", "scale": {"domain": [-2.344, 7.578], "nice": false, "zero": false},
        "axis": {"values": [-2,-1.5,-1,-0.5,0,0.5,1,1.5,2,2.5,3,3.5,4,4.5,5,5.5,6,6.5,7,7.5], "grid": true, "gridColor": "#b0b0b0", "gridWidth": 1.5,
          "gridDash": {"condition": {"test": "datum.value % 1 != 0", "value": [8, 5]}, "value": []},
          "ticks": true, "tickSize": 21, "tickOpacity": {"condition": {"test": "datum.value % 1 != 0", "value": 0}, "value": 1}, "labels": false, "title": null}}},
      "layer": [
        {"data": {"name": "obs"}, "transform": [{"filter": "datum.focus == 1"}], "mark": {"type": "rect", "color": "#f04848", "opacity": 0.075},
         "encoding": {"x2": {"field": "t2"}}},
        {"data": {"name": "obs"}, "transform": [{"fold": ["t", "t2"], "as": ["k", "t"]}], "mark": {"type": "rule", "color": "black", "strokeWidth": 2}, "encoding": {}},
        {"data": {"name": "volt"}, "mark": {"type": "line", "strokeWidth": 5.8},
         "encoding": {"y": {"field": "v", "type": "quantitative", "scale": {"domain": [-20, 20], "nice": false, "zero": false},
           "axis": {"title": "Volt", "values": [-20, -15, -10, -5, 0, 5, 10, 15, 20]}},
           "color": {"field": "msid", "type": "nominal",
             "scale": {"domain": ["2P15VBVL", "2N15VBVL", "2P05VBVL"], "range": ["#1f77b4", "#ff7f0e", "#2ca02c"]},
             "legend": {"title": null, "legendX": 719, "legendY": 198}}}}
      ]
    },
    {
      "width": 1682, "height": 502,
      "encoding": {"x": {"field": "t", "type": "quantitative", "scale": {"domain": [-2.344, 7.578], "nice": false, "zero": false},
        "axis": {"values": [-2,-1.5,-1,-0.5,0,0.5,1,1.5,2,2.5,3,3.5,4,4.5,5,5.5,6,6.5,7,7.5], "grid": true, "gridColor": "#b0b0b0", "gridWidth": 1.5,
          "gridDash": {"condition": {"test": "datum.value % 1 != 0", "value": [8, 5]}, "value": []},
          "ticks": true, "tickSize": 21, "tickOpacity": {"condition": {"test": "datum.value % 1 != 0", "value": 0}, "value": 1}, "labels": false, "title": null}}},
      "layer": [
        {"data": {"name": "obs"}, "transform": [{"filter": "datum.focus == 1"}], "mark": {"type": "rect", "color": "#f04848", "opacity": 0.075},
         "encoding": {"x2": {"field": "t2"}}},
        {"data": {"name": "obs"}, "transform": [{"fold": ["t", "t2"], "as": ["k", "t"]}], "mark": {"type": "rule", "color": "black", "strokeWidth": 2}, "encoding": {}},
        {"data": {"name": "hvline"}, "transform": [{"filter": "datum.msid == '2SPHBLV'"}],
         "mark": {"type": "line", "color": "#1f77b4", "strokeWidth": 9.5, "strokeCap": "round"},
         "encoding": {"y": {"field": "v", "type": "quantitative", "scale": {"domain": [0, 266.5], "nice": false, "zero": false},
           "axis": {"title": "HV Monitor", "values": [0, 50, 100, 150, 200, 250]}}}},
        {"data": {"name": "hvline"}, "transform": [{"filter": "datum.msid == '2SPHVLV'"}],
         "mark": {"type": "line", "color": "#ff7f0e", "strokeWidth": 9.5, "strokeCap": "round"},
         "encoding": {"y": {"field": "v", "type": "quantitative"}}},
        {"data": {"name": "hvline"}, "transform": [{"filter": "datum.msid == '2IMHVLV'"}],
         "mark": {"type": "line", "color": "#2ca02c", "strokeWidth": 9.5, "strokeCap": "round"},
         "encoding": {"y": {"field": "v", "type": "quantitative"}}},
        {"data": {"name": "hvline"}, "transform": [{"filter": "datum.msid == '2IMHBLV'"}],
         "mark": {"type": "line", "color": "#d62728", "strokeWidth": 9.5, "strokeCap": "round"},
         "encoding": {"y": {"field": "v", "type": "quantitative"}}},
        {"data": {"name": "hvdot"}, "mark": {"type": "point", "filled": true, "size": 90, "opacity": 1, "shape": "circle"},
         "encoding": {"y": {"field": "v", "type": "quantitative"},
           "fill": {"field": "msid", "type": "nominal",
             "scale": {"domain": ["2SPHBLV", "2SPHVLV", "2IMHVLV", "2IMHBLV"], "range": ["#1f77b4", "#ff7f0e", "#2ca02c", "#d62728"]},
             "legend": {"title": null, "legendX": 1447, "legendY": 11, "symbolType": "circle", "symbolSize": 90, "symbolOffset": 20, "labelOffset": 30, "rowPadding": 5}}}}
      ]
    },
    {
      "width": 1682, "height": 502,
      "encoding": {"x": {"field": "t", "type": "quantitative", "scale": {"domain": [-2.344, 7.578], "nice": false, "zero": false},
        "axis": {"values": [-2,-1.5,-1,-0.5,0,0.5,1,1.5,2,2.5,3,3.5,4,4.5,5,5.5,6,6.5,7,7.5], "grid": true, "gridColor": "#b0b0b0", "gridWidth": 1.5,
          "gridDash": {"condition": {"test": "datum.value % 1 != 0", "value": [8, 5]}, "value": []},
          "ticks": true, "tickSize": 21, "tickOpacity": {"condition": {"test": "datum.value % 1 != 0", "value": 0}, "value": 1}, "labels": false, "title": null}}},
      "layer": [
        {"data": {"name": "obs"}, "transform": [{"filter": "datum.focus == 1"}], "mark": {"type": "rect", "color": "#f04848", "opacity": 0.075},
         "encoding": {"x2": {"field": "t2"}}},
        {"data": {"name": "obs"}, "transform": [{"fold": ["t", "t2"], "as": ["k", "t"]}], "mark": {"type": "rule", "color": "black", "strokeWidth": 2}, "encoding": {}},
        {"data": {"name": "det"}, "mark": {"type": "line", "interpolate": "step-after", "strokeWidth": 6.5, "clip": true},
         "encoding": {"y": {"field": "v", "type": "quantitative", "scale": {"domain": [16.77, 35.47], "nice": false, "zero": false},
           "axis": {"title": "Detector Temp", "values": [17.5, 20, 22.5, 25, 27.5, 30, 32.5, 35], "format": ".1f"}},
           "color": {"field": "msid", "type": "nominal",
             "scale": {"domain": ["2SPINATM", "2SPHVATM", "2IMINATM", "2IMHVATM"], "range": ["#1f77b4", "#ff7f0e", "#2ca02c", "#d62728"]},
             "legend": {"title": null, "legendX": 719, "legendY": 181}}}}
      ]
    },
    {
      "width": 1682, "height": 502,
      "encoding": {"x": {"field": "t", "type": "quantitative", "scale": {"domain": [-2.344, 7.578], "nice": false, "zero": false},
        "axis": {"values": [-2,-1.5,-1,-0.5,0,0.5,1,1.5,2,2.5,3,3.5,4,4.5,5,5.5,6,6.5,7,7.5], "grid": true, "gridColor": "#b0b0b0", "gridWidth": 1.5,
          "gridDash": {"condition": {"test": "datum.value % 1 != 0", "value": [8, 5]}, "value": []},
          "ticks": true, "tickSize": 21, "tickOpacity": {"condition": {"test": "datum.value % 1 != 0", "value": 0}, "value": 1},
          "labels": true,
          "labelExpr": "datum.value % 1 != 0 ? '30' : (((datum.value + 24) % 24) < 10 ? '0' : '') + ((datum.value + 24) % 24) + 'h'",
          "labelFontSize": {"condition": {"test": "datum.value % 1 != 0", "value": 17.5}, "value": 27},
          "labelPadding": {"condition": {"test": "datum.value % 1 != 0", "value": -15}, "value": 5},
          "title": "2021-02-08 (039)", "titleFontSize": 30, "titlePadding": 2}}},
      "layer": [
        {"data": {"name": "obs"}, "transform": [{"filter": "datum.focus == 1"}], "mark": {"type": "rect", "color": "#f04848", "opacity": 0.075},
         "encoding": {"x2": {"field": "t2"}}},
        {"data": {"name": "obs"}, "transform": [{"fold": ["t", "t2"], "as": ["k", "t"]}], "mark": {"type": "rule", "color": "black", "strokeWidth": 2}, "encoding": {}},
        {"data": {"name": "fea"}, "mark": {"type": "line", "interpolate": "step-after", "strokeWidth": 6.5, "clip": true},
         "encoding": {"y": {"field": "v", "type": "quantitative", "scale": {"domain": [12.35, 24.63], "nice": false, "zero": false},
           "axis": {"title": "FEA Temp", "values": [14, 16, 18, 20, 22, 24]}},
           "color": {"field": "msid", "type": "nominal",
             "scale": {"domain": ["2FHTRMZT", "2FRADPYT", "2FEPRATM", "2FE00ATM"], "range": ["#1f77b4", "#ff7f0e", "#2ca02c", "#d62728"]},
             "legend": {"title": null, "legendX": 15, "legendY": 352}}}}
      ]
    }
  ]
}
